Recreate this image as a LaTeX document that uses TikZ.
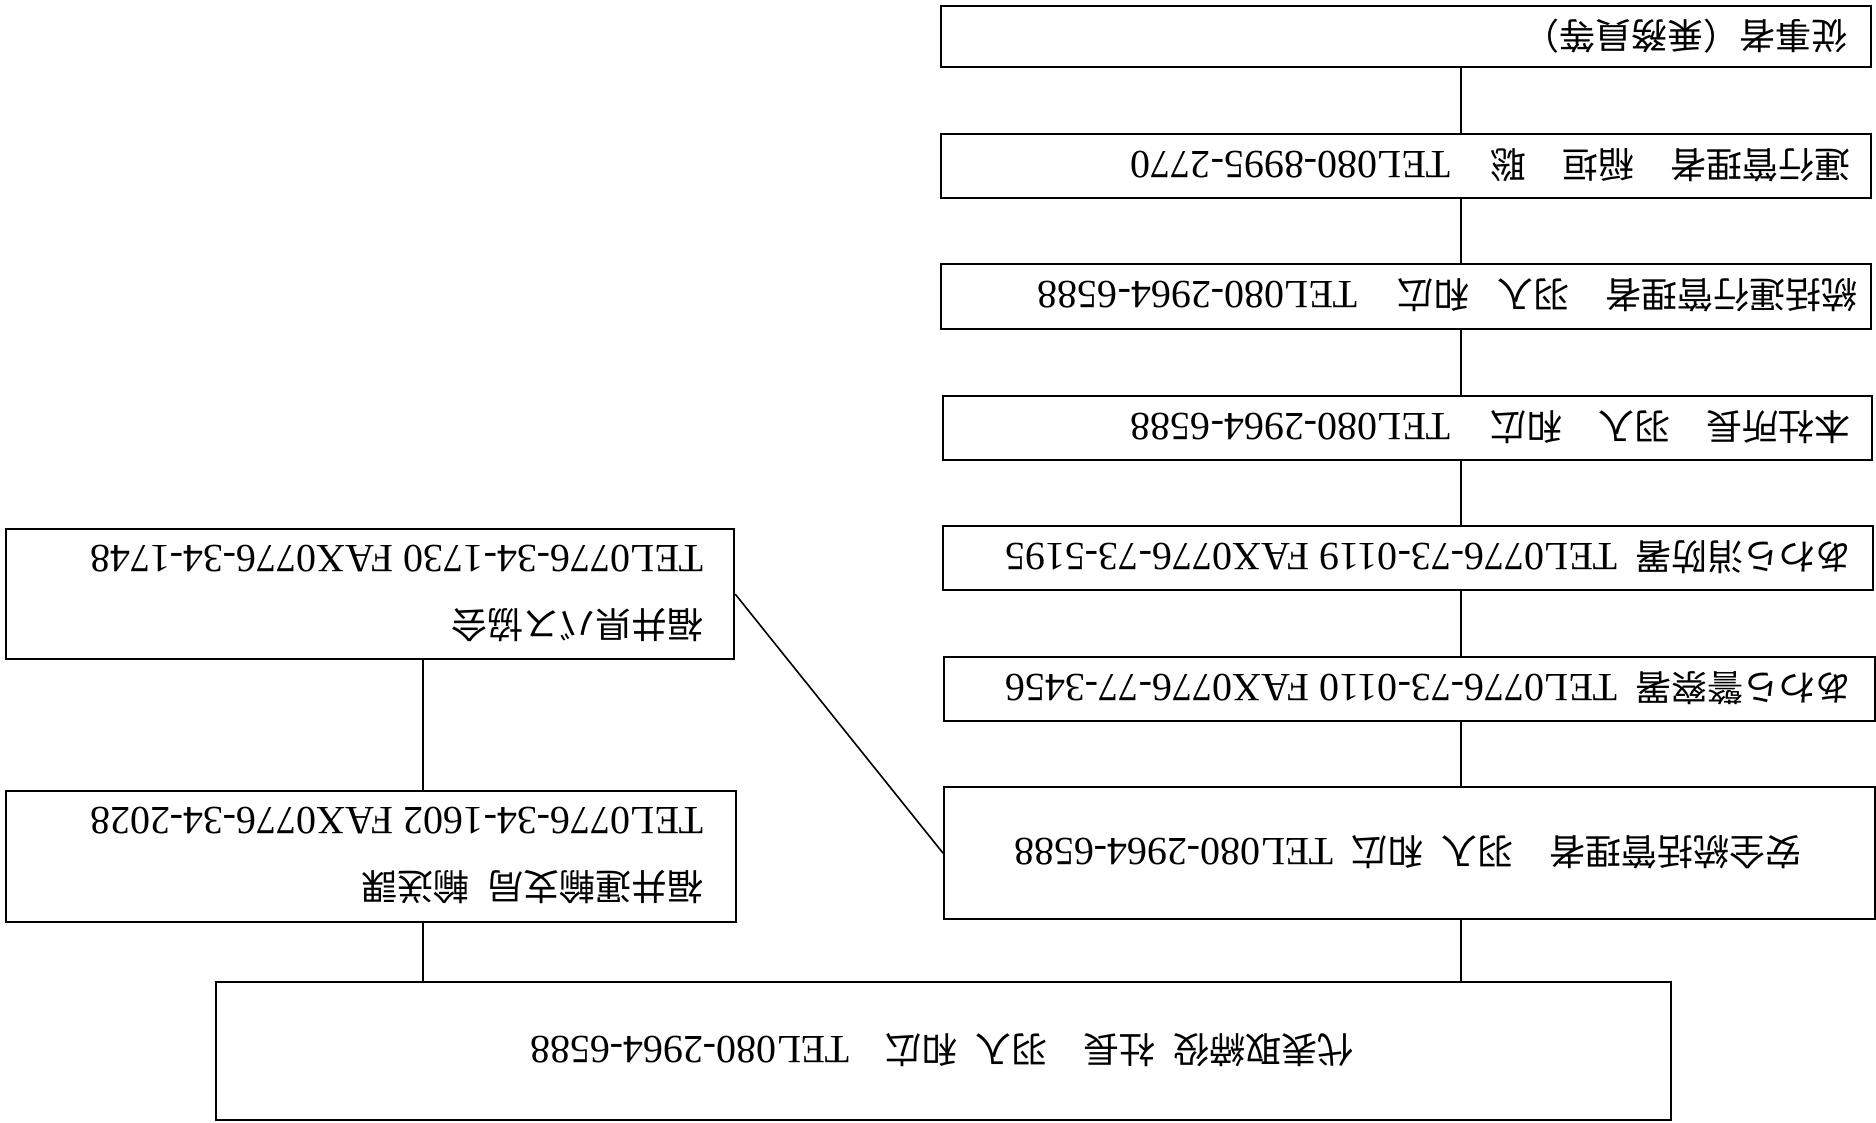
\documentclass[tikz,border=0pt]{standalone}
\usepackage{fontspec}
\setmainfont{Liberation Serif}
\newfontfamily\jpfont{Noto Sans CJK JP}
\newcommand\J[1]{{\jpfont\fontsize{36}{40}\selectfont #1}}
\newcommand\fsp{\hspace{36pt}}
\newcommand\hsp{\hspace{18pt}}
\begin{document}
\begin{tikzpicture}[x=1pt,y=-1pt,
  box/.style={draw, line width=2.2pt, inner sep=0pt, anchor=north west},
  link/.style={line width=1.6pt},
  txt/.style={rotate=180, inner sep=0pt, font=\fontsize{40}{44}\selectfont}]
\useasboundingbox (0,0) rectangle (1876,1122);
% boxes
\node[box, minimum width=930pt, minimum height=61pt] (A) at (940,5) {};
\node[box, minimum width=930pt, minimum height=64pt] (B) at (940,133) {};
\node[box, minimum width=930pt, minimum height=65pt] (C) at (940,263) {};
\node[box, minimum width=929pt, minimum height=64pt] (D) at (942,395) {};
\node[box, minimum width=930pt, minimum height=64pt] (E) at (942,525) {};
\node[box, minimum width=931pt, minimum height=64pt] (F) at (943,656) {};
\node[box, minimum width=931pt, minimum height=132pt] (G) at (943,786) {};
\node[box, minimum width=728pt, minimum height=130pt] (H) at (5,528) {};
\node[box, minimum width=730pt, minimum height=131pt] (I) at (5,790) {};
\node[box, minimum width=1455pt, minimum height=138pt] (J) at (215,981) {};
% texts (printed upside down)
\node[txt, anchor=west] (tA) at (1848,36) {\J{従事者（乗務員等）}};
\node[txt, anchor=west] (tB) at (1851,165) {\J{運行管理者}\fsp\J{稲垣}\fsp\J{聡}\hspace{40pt}TEL080-8995-2770};
\node[txt, anchor=west] (tC) at (1858,295) {\J{統括運行管理者}\fsp\J{羽入}\hspace{28pt}\J{和広}\hspace{40pt}TEL080-2964-6588};
\node[txt, anchor=west] (tD) at (1851,427) {\J{本社所長}\fsp\J{羽入}\fsp\J{和広}\hspace{40pt}TEL080-2964-6588};
\node[txt, anchor=west] (tE) at (1852,557) {\J{あわら消防署}\hspace{18pt}TEL0776-73-0119 FAX0776-73-5195};
\node[txt, anchor=west] (tF) at (1852,688) {\J{あわら警察署}\hspace{18pt}TEL0776-73-0110 FAX0776-77-3456};
\node[txt, anchor=center] (tG) at (1408,852) {\J{安全統括管理者}\fsp\J{羽入}\hsp\J{和広}\hsp TEL080-2964-6588};
\node[txt, anchor=west] (tH1) at (704,625) {\J{福井県バス協会}};
\node[txt, anchor=west] (tH2) at (704,559) {TEL0776-34-1730 FAX0776-34-1748};
\node[txt, anchor=west] (tI1) at (704,887) {\J{福井運輸支局}\hsp\J{輸送課}};
\node[txt, anchor=west] (tI2) at (704,821) {TEL0776-34-1602 FAX0776-34-2028};
\node[txt, anchor=center] (tJ) at (942,1050) {\J{代表取締役}\hsp\J{社長}\fsp\J{羽入}\hsp\J{和広}\fsp TEL080-2964-6588};
% connectors
\coordinate (xr) at (1461,0);
\coordinate (xl) at (423,0);
\draw[link] (A.south -| xr) -- (B.north -| xr);
\draw[link] (B.south -| xr) -- (C.north -| xr);
\draw[link] (C.south -| xr) -- (D.north -| xr);
\draw[link] (D.south -| xr) -- (E.north -| xr);
\draw[link] (E.south -| xr) -- (F.north -| xr);
\draw[link] (F.south -| xr) -- (G.north -| xr);
\draw[link] (G.south -| xr) -- (J.north -| xr);
\draw[link] (H.south -| xl) -- (I.north -| xl);
\draw[link] (I.south -| xl) -- (J.north -| xl);
\draw[link] (H.east) -- (G.west);
\end{tikzpicture}
\end{document}
